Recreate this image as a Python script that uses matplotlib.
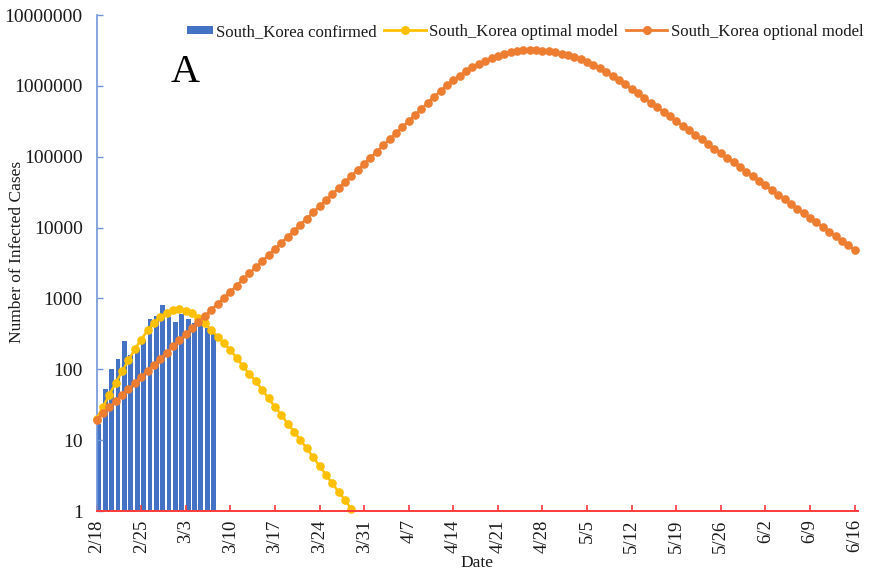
import numpy as np
import matplotlib
matplotlib.use("Agg")
import matplotlib.pyplot as plt
from matplotlib.ticker import FixedLocator, FuncFormatter, NullLocator
from matplotlib.patches import Patch, Rectangle
from matplotlib.lines import Line2D
from matplotlib.legend_handler import HandlerPatch

plt.rcParams['font.family'] = ['Liberation Serif', 'DejaVu Serif']

# ---------------- data ----------------
tick_labels = ["2/18", "2/25", "3/3", "3/10", "3/17", "3/24", "3/31", "4/7", "4/14",
               "4/21", "4/28", "5/5", "5/12", "5/19", "5/26", "6/2", "6/9", "6/16"]

confirmed = [17, 52, 100, 141, 252, 160, 195, 260, 510, 567,
             804, 544, 462, 600, 510, 447, 427, 380, 323]

optimal_model = [20, 29.5, 43.7, 64.6, 93.3, 135, 191, 263, 355, 457,
                 550, 631, 684, 700, 676, 617, 537, 447, 360, 288,
                 234, 186, 145, 110, 86, 67.6, 51.3, 38.9, 29.5, 22.9,
                 17.0, 13.2, 10.0, 7.67, 5.75, 4.32, 3.24, 2.45, 1.86, 1.43,
                 1.06]

optional_model = [19.5, 23.8, 29.0, 35.3, 43.1, 52.5, 64.0, 78.0, 95.1, 115.9,
                  141, 172, 210, 256, 312, 380, 463, 565, 689, 840,
                  1023, 1247, 1521, 1854, 2259, 2754, 3357, 4093, 4989, 6081,
                  7413, 9036, 11015, 13428, 16368, 19953, 24322, 29648, 36141, 44055,
                  53703, 65464, 79799, 97275, 118577, 144544, 176198, 214783, 261818, 319154,
                  389045, 474242, 578096, 704693, 853000, 1021000, 1205000, 1403000, 1614000, 1832000,
                  2051000, 2270000, 2477000, 2673000, 2844000, 2985000, 3097000, 3170000, 3206000, 3199000,
                  3160000, 3089000, 2989000, 2863000, 2715000, 2548000, 2366000, 2175000, 1980000, 1783000,
                  1590000, 1403000, 1225000, 1059000, 912000, 785000, 676000, 582000, 501000, 431000,
                  372000, 320000, 275000, 237000, 204000, 176000, 151000, 130000, 112000, 96600,
                  83200, 71600, 61700, 53100, 45700, 39400, 33900, 29200, 25100, 21600,
                  18600, 16000, 13800, 11900, 10200, 8810, 7590, 6530, 5620, 4840]

y_ticks = [1, 10, 100, 1000, 10000, 100000, 1000000, 10000000]

# ---------------- style ----------------
BLUE = "#4472C4"
YELLOW = "#FFC000"
ORANGE = "#ED7D31"
YAX = "#6F96D8"
XAX = "#FF3B3B"
TXT = "#1a1a1a"

fig = plt.figure(figsize=(8.7, 5.7), dpi=100)
ax = fig.add_axes([0.111, 0.1035, 0.875, 0.870])

x_conf = np.arange(len(confirmed))
x_opt = np.arange(len(optimal_model))
x_optn = np.arange(len(optional_model))

ax.bar(x_conf, confirmed, width=0.75, align='edge', color=BLUE, zorder=1)
ax.plot(x_opt, optimal_model, color=YELLOW, lw=1.8, marker='o', ms=5.2,
        mec=YELLOW, mfc=YELLOW, zorder=3, clip_on=False)
ax.plot(x_optn, optional_model, color=ORANGE, lw=1.8, marker='o', ms=5.2,
        mec=ORANGE, mfc=ORANGE, zorder=4, clip_on=False)

ax.set_yscale('log')
ax.set_ylim(1, 1e7)
ax.set_xlim(0, 119.5)
ax.yaxis.set_major_locator(FixedLocator(y_ticks))
ax.yaxis.set_minor_locator(NullLocator())
ax.yaxis.set_major_formatter(FuncFormatter(lambda v, p: f"{int(round(v))}"))

ax.set_xticks(np.arange(0, 7 * len(tick_labels), 7))
ax.set_xticklabels(tick_labels, rotation=90)

for s in ['top', 'right']:
    ax.spines[s].set_visible(False)
ax.spines['left'].set_color(YAX)
ax.spines['left'].set_linewidth(1.2)
ax.spines['bottom'].set_color(XAX)
ax.spines['bottom'].set_linewidth(1.4)
ax.spines['bottom'].set_zorder(5)

ax.tick_params(axis='x', direction='in', length=4, width=1.2, color=XAX,
               labelsize=13.5, labelcolor=TXT, pad=6)
ax.tick_params(axis='y', direction='in', length=4, width=1.0, color=YAX,
               labelsize=14, labelcolor=TXT, pad=10)

ax.set_ylabel("Number of Infected Cases", fontsize=12.5, color=TXT)
ax.yaxis.set_label_coords(-0.0946, 0.522)
ax.set_xlabel("Date", fontsize=12.5, color=TXT, labelpad=2)

ax.text(0.097, 0.865, "A", transform=ax.transAxes, fontsize=29, color='black',
        va='baseline', ha='left')


class ShortPatchHandler(HandlerPatch):
    def create_artists(self, legend, orig_handle, xdescent, ydescent,
                       width, height, fontsize, trans):
        w = width * 0.62
        r = Rectangle((width - w - xdescent, -ydescent + height * 0.1), w, height * 0.8,
                      facecolor=orig_handle.get_facecolor(), edgecolor='none',
                      transform=trans)
        return [r]


handles = [Patch(facecolor=BLUE, edgecolor='none'),
           Line2D([0], [0], color=YELLOW, lw=2, marker='o', ms=5.5),
           Line2D([0], [0], color=ORANGE, lw=2, marker='o', ms=5.5)]
labels = ["South_Korea confirmed", "South_Korea optimal model", "South_Korea optional model"]
fig.legend(handles, labels, loc='center right', bbox_to_anchor=(1.0, 0.944),
           ncol=3, frameon=False, fontsize=12.0, handlelength=2.5, handleheight=0.55,
           handletextpad=0.2, columnspacing=0.45, labelcolor=TXT,
           borderpad=0.1, borderaxespad=0.3,
           handler_map={Patch: ShortPatchHandler()})

fig.savefig("out.png", dpi=100)
